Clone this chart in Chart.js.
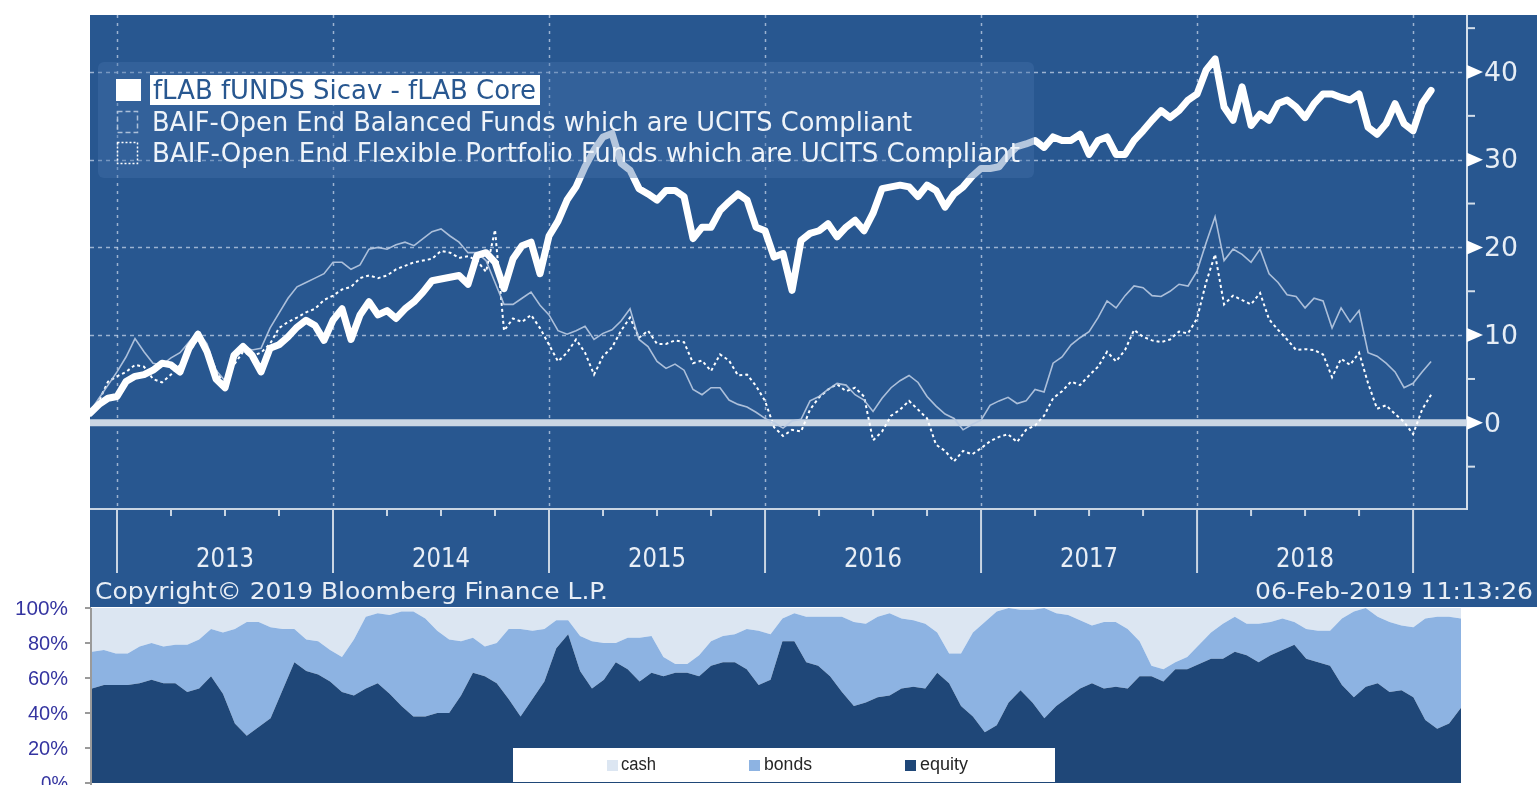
<!DOCTYPE html>
<html>
<head>
<meta charset="utf-8">
<script src="https://cdn.jsdelivr.net/npm/chart.js@4.4.1/dist/chart.umd.min.js"></script>
<style>
  html, body { margin: 0; padding: 0; background: #fff; }
  #wrap { position: relative; width: 1537px; height: 785px; overflow: hidden; }
  .box { position: absolute; left: 0; width: 1537px; }
</style>
</head>
<body>
<div id="wrap">
  <div class="box" style="top:0;height:607px"><canvas id="topChart"></canvas></div>
  <div class="box" style="top:597px;height:188px"><canvas id="mixChart"></canvas></div>
</div>
<script>
// Performance in %, one reading every half month starting mid Nov 2012
const perfStart = 2012.875;
const perfStep = 1 / 24;

const flabCore = [
  1.1, 2.1, 2.8, 3.0, 4.7, 5.3, 5.5, 6.0, 6.8, 6.6,
  5.8, 8.5, 10.1, 8.1, 5.0, 4.0, 7.7, 8.7, 7.7, 5.8,
  8.5, 8.9, 9.8, 10.9, 11.7, 11.1, 9.4, 11.7, 13.0, 9.5,
  12.3, 13.8, 12.3, 12.8, 11.9, 13.0, 13.8, 14.9, 16.2, 16.4,
  16.6, 16.8, 15.8, 19.1, 19.4, 18.3, 15.3, 18.7, 20.2, 20.6,
  17.0, 21.3, 23.0, 25.4, 26.9, 29.2, 31.1, 32.6, 33.0, 29.6,
  28.8, 26.7, 26.1, 25.4, 26.5, 26.5, 25.8, 21.0, 22.3, 22.3,
  24.2, 25.2, 26.1, 25.4, 22.3, 21.9, 18.9, 19.3, 15.1, 20.8,
  21.6, 21.9, 22.7, 21.2, 22.3, 23.1, 21.9, 23.9, 26.7, 26.9,
  27.1, 26.9, 25.8, 27.1, 26.5, 24.6, 26.1, 26.9, 28.1, 29.0,
  29.0, 29.2, 30.5, 31.5, 31.8, 32.2, 31.4, 32.6, 32.2, 32.2,
  32.9, 30.6, 32.2, 32.6, 30.6, 30.6, 32.2, 33.3, 34.5, 35.6,
  34.8, 35.6, 36.8, 37.5, 40.2, 41.5, 36.0, 34.5, 38.3, 33.9,
  35.2, 34.5, 36.4, 36.8, 36.0, 34.8, 36.4, 37.5, 37.5, 37.1,
  36.8, 37.5, 33.7, 32.9, 34.1, 36.4, 34.1, 33.3, 36.4, 37.9
];

const baifBalanced = [
  1.3, 2.8, 4.3, 5.8, 7.5, 9.6, 8.1, 6.8, 6.6, 7.4,
  8.0, 9.2, 10.4, 9.0, 6.0, 4.8, 7.4, 8.7, 8.3, 8.5,
  10.8, 12.5, 14.2, 15.5, 16.0, 16.5, 17.0, 18.3, 18.3, 17.5,
  18.0, 19.8, 20.0, 19.8, 20.3, 20.6, 20.2, 21.0, 21.8, 22.1,
  21.3, 20.6, 19.4, 19.4, 18.5, 16.0, 13.5, 13.5, 14.2, 14.9,
  13.4, 12.3, 10.5, 10.1, 10.5, 11.0, 9.5, 10.2, 10.6, 11.6,
  13.0, 9.5, 8.7, 7.0, 6.2, 6.7, 6.0, 3.8, 3.2, 4.0,
  4.0, 2.6, 2.1, 1.8, 1.2, 0.5, 0.0, -0.6, 0.2, 0.4,
  2.5, 3.0, 3.8, 4.5, 4.3, 3.2, 2.6, 1.3, 2.8, 4.0,
  4.8, 5.4, 4.6, 3.0, 1.9, 1.0, 0.5, -0.8, -0.2, 0.3,
  2.0, 2.5, 2.9, 2.2, 2.5, 3.8, 3.5, 6.8, 7.5, 8.9,
  9.7, 10.4, 12.0, 13.9, 13.1, 14.5, 15.6, 15.4, 14.5, 14.4,
  15.0, 15.8, 15.6, 17.3, 20.5, 23.5, 18.5, 19.8, 19.2, 18.3,
  19.8, 17.0, 16.0, 14.6, 14.4, 13.1, 14.2, 13.9, 10.8, 13.1,
  11.5, 12.8, 8.0, 7.6, 6.8, 5.8, 4.0, 4.5, 5.8, 7.0
];

const baifFlexible = [
  0.9, 2.5, 4.7, 5.3, 5.8, 6.6, 6.4, 5.0, 4.6, 5.5,
  6.6, 8.0, 9.6, 8.5, 6.0, 4.2, 6.6, 8.1, 7.6, 8.0,
  9.0, 10.8, 11.5, 12.0, 12.6, 13.0, 14.0, 14.5, 15.2, 15.5,
  16.5, 16.8, 16.5, 16.8, 17.5, 17.9, 18.3, 18.5, 18.7, 19.6,
  19.4, 18.8, 19.0, 18.5, 17.2, 22.0, 10.5, 11.9, 11.5, 12.3,
  10.8, 8.9, 7.0, 8.0, 9.5, 8.0, 5.5, 7.6, 8.6, 10.5,
  12.0, 9.7, 10.5, 9.0, 9.0, 9.4, 9.2, 6.8, 7.1, 5.9,
  7.8, 7.1, 5.4, 5.5, 4.2, 2.5, -0.5, -1.5, -0.8, -1.0,
  1.5, 2.9, 3.8, 4.4, 3.6, 4.0, 3.0, -2.0, -1.0, 0.8,
  1.5, 2.5, 1.5, 0.5, -2.5, -3.2, -4.4, -3.2, -3.6, -2.9,
  -2.1, -1.6, -1.3, -2.2, -0.8, -0.3, 0.8, 2.8, 3.6, 4.7,
  4.3, 5.4, 6.4, 8.1, 7.0, 8.3, 10.6, 9.8, 9.4, 9.2,
  9.5, 10.4, 10.2, 11.9, 16.0, 19.2, 13.5, 14.5, 14.0, 13.5,
  14.8, 11.8, 10.6, 9.5, 8.3, 8.4, 8.3, 7.8, 5.2, 7.3,
  6.6, 8.0, 4.5, 1.6, 2.0, 1.0, 0.1, -1.3, 1.5, 3.2
];

const seriesNames = [
  'fLAB fUNDS Sicav - fLAB Core',
  'BAIF-Open End Balanced Funds which are UCITS Compliant',
  'BAIF-Open End Flexible Portfolio Funds which are UCITS Compliant'
];
const yearLabels = ['2013', '2014', '2015', '2016', '2017', '2018'];
const perfTicks = [0, 10, 20, 30, 40];

// Asset allocation of the fund, % of portfolio
const equity = [
  54, 56, 56, 56, 57, 59, 57, 57, 52, 54,
  61, 51, 34, 27, 32, 37, 53, 69, 64, 62,
  58, 52, 50, 54, 57, 51, 44, 38, 38, 40,
  40, 50, 63, 61, 57, 48, 38, 48, 58, 77,
  85, 64, 54, 59, 69, 65, 58, 63, 61, 63,
  63, 61, 67, 69, 69, 65, 56, 59, 81, 81,
  69, 67, 61, 52, 44, 46, 49, 50, 54, 55,
  54, 63, 57, 44, 38, 29, 33, 46, 53, 46,
  37, 44, 49, 54, 57, 54, 55, 54, 61, 61,
  58, 65, 65, 68, 71, 71, 75, 73, 69, 73,
  76, 79, 71, 69, 67, 56, 49, 55, 57, 52,
  53, 49, 36, 31, 34, 43
];
const bonds = [
  21, 20, 18, 18, 21, 21, 21, 22, 27, 28,
  27, 35, 54, 65, 60, 52, 35, 19, 18, 19,
  18, 20, 32, 41, 40, 45, 54, 60, 56, 47,
  42, 31, 20, 17, 23, 40, 50, 39, 30, 16,
  8, 20, 27, 21, 11, 18, 25, 21, 11, 5,
  5, 12, 14, 15, 16, 23, 31, 26, 13, 16,
  26, 28, 34, 43, 48, 45, 46, 47, 40, 38,
  37, 23, 17, 30, 48, 63, 65, 54, 46, 53,
  63, 53, 47, 39, 33, 38, 37, 34, 20, 6,
  7, 4, 7, 11, 15, 20, 20, 18, 22, 19,
  18, 13, 17, 18, 20, 38, 49, 45, 38, 40,
  37, 40, 58, 64, 61, 51
];
const cash = [
  25, 24, 26, 26, 22, 20, 22, 21, 21, 18,
  12, 14, 12, 8, 8, 11, 12, 12, 18, 19,
  24, 28, 18, 5, 3, 4, 2, 2, 6, 13,
  18, 19, 17, 22, 20, 12, 12, 13, 12, 7,
  7, 16, 19, 20, 20, 17, 17, 16, 28, 32,
  32, 27, 19, 16, 15, 12, 13, 15, 6, 3,
  5, 5, 5, 5, 8, 9, 5, 3, 6, 7,
  9, 14, 26, 26, 14, 8, 2, 0, 1, 1,
  0, 3, 4, 7, 10, 8, 8, 12, 19, 33,
  35, 31, 28, 21, 14, 9, 5, 9, 9, 8,
  6, 8, 12, 13, 13, 6, 2, 0, 5, 8,
  10, 11, 6, 5, 5, 6
];
const allocTicks = [0, 20, 40, 60, 80, 100];
const allocNames = ['cash', 'bonds', 'equity'];

const BBG_FONT = "'DejaVu Sans Condensed', 'DejaVu Sans', sans-serif";
const XL_FONT = "'Liberation Sans', Arial, sans-serif";

function toPoints(values) {
  return values.map((v, i) => ({ x: perfStart + i * perfStep, y: v }));
}

// draw text squeezed or stretched to a given width
function fitText(ctx, text, x, y, width, size, family, color, align) {
  ctx.save();
  ctx.font = size + 'px ' + family;
  ctx.fillStyle = color;
  ctx.textBaseline = 'middle';
  ctx.textAlign = 'left';
  const w = ctx.measureText(text).width;
  const left = align === 'right' ? x - width : align === 'center' ? x - width / 2 : x;
  ctx.translate(left, y);
  ctx.scale(width / w, 1);
  ctx.fillText(text, 0, 0);
  ctx.restore();
}

function seg(ctx, x1, y1, x2, y2) {
  ctx.beginPath();
  ctx.moveTo(x1, y1);
  ctx.lineTo(x2, y2);
  ctx.stroke();
}

const bloombergLook = {
  id: 'bloombergLook',
  beforeDraw(chart) {
    const { ctx, chartArea: a } = chart;
    ctx.save();
    ctx.fillStyle = '#285790';
    ctx.fillRect(a.left, a.top, chart.width - a.left, chart.height - a.top);
    ctx.restore();
  },
  beforeDatasetsDraw(chart) {
    const { ctx, chartArea: a, scales: { x, y } } = chart;
    ctx.save();
    ctx.strokeStyle = 'rgba(205,218,236,0.7)';
    ctx.lineWidth = 1.5;
    ctx.setLineDash([4, 4]);
    [10, 20, 30, 40].forEach(v => {
      const py = Math.round(y.getPixelForValue(v)) + 0.5;
      seg(ctx, a.left, py, a.right, py);
    });
    ctx.setLineDash([3, 5]);
    for (let yr = 2013; yr <= 2019; yr++) {
      const px = Math.round(x.getPixelForValue(yr)) + 0.5;
      seg(ctx, px, a.top, px, a.bottom);
    }
    ctx.setLineDash([]);
    ctx.strokeStyle = '#cad6e4';
    ctx.lineWidth = 7;
    const zy = y.getPixelForValue(0);
    seg(ctx, a.left, zy, a.right, zy);
    ctx.restore();
  },
  afterDatasetsDraw(chart) {
    const { ctx, chartArea: a, scales: { x, y } } = chart;
    ctx.save();

    // legend panel lying over the lines
    ctx.fillStyle = 'rgba(68,112,169,0.4)';
    ctx.beginPath();
    ctx.roundRect(98, 62, 936, 116, 6);
    ctx.fill();

    ctx.fillStyle = '#ffffff';
    ctx.fillRect(116, 79, 25, 22);
    ctx.fillRect(150, 75, 390, 30);
    fitText(ctx, seriesNames[0], 153, 92, 383, 26, BBG_FONT, '#285790');

    ctx.lineWidth = 1.5;
    ctx.strokeStyle = 'rgba(185,202,224,0.9)';
    ctx.setLineDash([5, 3]);
    ctx.strokeRect(117.5, 111.5, 20, 21);
    fitText(ctx, seriesNames[1], 152, 124, 760, 26, BBG_FONT, '#eef3f9');

    ctx.strokeStyle = '#ffffff';
    ctx.setLineDash([2, 2]);
    ctx.strokeRect(117.5, 142.5, 20, 21);
    fitText(ctx, seriesNames[2], 152, 155, 868, 26, BBG_FONT, '#eef3f9');
    ctx.setLineDash([]);

    // right value axis
    const ax = a.right;
    ctx.strokeStyle = '#d3deea';
    ctx.lineWidth = 2;
    seg(ctx, ax + 1, a.top, ax + 1, a.bottom + 3);
    for (let v = -5; v <= 45; v += 10) {
      const py = y.getPixelForValue(v);
      seg(ctx, ax, py, ax + 9, py);
    }
    ctx.fillStyle = '#ffffff';
    perfTicks.forEach(v => {
      const py = y.getPixelForValue(v);
      ctx.beginPath();
      ctx.moveTo(ax + 1, py - 7);
      ctx.lineTo(ax + 17, py);
      ctx.lineTo(ax + 1, py + 7);
      ctx.closePath();
      ctx.fill();
      const label = String(v);
      fitText(ctx, label, ax + 18, py + 2, label.length * 17, 26, BBG_FONT, '#e6edf5');
    });

    // time axis under the plot
    const by = a.bottom + 2;
    ctx.strokeStyle = '#c9d5e3';
    ctx.lineWidth = 2;
    seg(ctx, a.left, by, a.right, by);
    for (let q = 2012.75; q <= 2019.25; q += 0.25) {
      if (q < x.min || q > x.max) continue;
      const px = x.getPixelForValue(q);
      const isYear = Math.abs(q - Math.round(q)) < 1e-6;
      seg(ctx, px, by, px, by + (isYear ? 64 : 7));
    }
    yearLabels.forEach(lbl => {
      const px = x.getPixelForValue(Number(lbl) + 0.5);
      fitText(ctx, lbl, px, 560, 58, 26, BBG_FONT, '#e8eef6', 'center');
    });

    fitText(ctx, 'Copyright\u00a9 2019 Bloomberg Finance L.P.', 95, 593, 513, 23, BBG_FONT, '#e8eef6');
    fitText(ctx, '06-Feb-2019 11:13:26', 1533, 593, 278, 23, BBG_FONT, '#e8eef6', 'right');
    ctx.restore();
  }
};

new Chart(document.getElementById('topChart'), {
  type: 'line',
  data: {
    datasets: [
      {
        label: seriesNames[0],
        data: toPoints(flabCore),
        borderColor: '#ffffff',
        borderWidth: 7,
        borderJoinStyle: 'round',
        borderCapStyle: 'round',
        pointRadius: 0,
        tension: 0
      },
      {
        label: seriesNames[1],
        data: toPoints(baifBalanced),
        borderColor: 'rgba(186,203,226,0.9)',
        borderWidth: 1.6,
        pointRadius: 0,
        tension: 0
      },
      {
        label: seriesNames[2],
        data: toPoints(baifFlexible),
        borderColor: '#ffffff',
        borderWidth: 2,
        borderDash: [3, 3],
        pointRadius: 0,
        tension: 0
      }
    ]
  },
  options: {
    responsive: true,
    maintainAspectRatio: false,
    animation: false,
    layout: { padding: { left: 90, top: 15, right: 71, bottom: 100 } },
    scales: {
      x: { type: 'linear', display: false, min: 2012.875, max: 2019.245 },
      y: { type: 'linear', display: false, min: -9.6, max: 46.5 }
    },
    plugins: { legend: { display: false }, tooltip: { enabled: false } }
  },
  plugins: [bloombergLook]
});

const allocColors = { equity: '#1f4778', bonds: '#8db3e2', cash: '#dce6f2' };

const excelLook = {
  id: 'excelLook',
  afterDraw(chart) {
    const { ctx, chartArea: a, scales: { y } } = chart;
    ctx.save();
    ctx.strokeStyle = '#9a9a9a';
    ctx.lineWidth = 2;
    seg(ctx, a.left - 1, a.top, a.left - 1, a.bottom + 2);
    allocTicks.forEach(v => {
      const py = y.getPixelForValue(v);
      seg(ctx, a.left - 7, py, a.left - 1, py);
      const label = v + '%';
      const w = label.length === 4 ? 53 : label.length === 3 ? 40 : 27;
      fitText(ctx, label, 68, py + 1, w, 20, XL_FONT, '#3434a0', 'right');
    });

    // legend box
    const top = 748 - 597;
    ctx.fillStyle = '#ffffff';
    ctx.fillRect(513, top, 542, 34);
    const items = [
      { name: allocNames[0], sx: 607, tx: 621, w: 35 },
      { name: allocNames[1], sx: 749, tx: 764, w: 48 },
      { name: allocNames[2], sx: 905, tx: 920, w: 48 }
    ];
    items.forEach(it => {
      ctx.fillStyle = allocColors[it.name];
      ctx.fillRect(it.sx, top + 12, 11, 11);
      fitText(ctx, it.name, it.tx, top + 17, it.w, 18, XL_FONT, '#262626');
    });
    ctx.restore();
  }
};

new Chart(document.getElementById('mixChart'), {
  type: 'line',
  data: {
    labels: equity.map((_, i) => i),
    datasets: [
      { label: 'equity', data: equity, backgroundColor: allocColors.equity, borderWidth: 0, pointRadius: 0, fill: 'origin', tension: 0 },
      { label: 'bonds', data: bonds, backgroundColor: allocColors.bonds, borderWidth: 0, pointRadius: 0, fill: '-1', tension: 0 },
      { label: 'cash', data: cash, backgroundColor: allocColors.cash, borderWidth: 0, pointRadius: 0, fill: '-1', tension: 0 }
    ]
  },
  options: {
    responsive: true,
    maintainAspectRatio: false,
    animation: false,
    layout: { padding: { left: 92, top: 11, right: 76, bottom: 2 } },
    scales: {
      x: { display: false, offset: false },
      y: { display: false, stacked: true, min: 0, max: 100 }
    },
    plugins: { legend: { display: false }, tooltip: { enabled: false } }
  },
  plugins: [excelLook]
});
</script>
</body>
</html>
